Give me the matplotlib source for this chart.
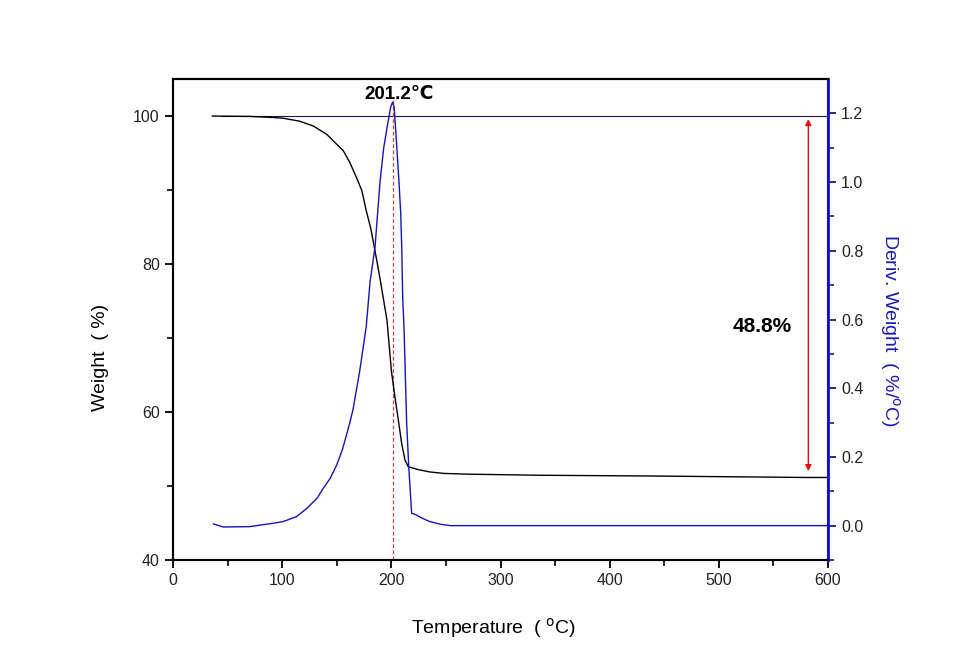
import numpy as np
import matplotlib
matplotlib.use("Agg")
import matplotlib.pyplot as plt

plt.rcParams['font.family'] = ['Liberation Sans', 'DejaVu Sans']

# TGA weight curve
temp_w = [36, 45, 70, 92, 101, 116, 128.5, 141, 148.4, 156, 162, 168, 173, 177, 181, 185,
          190, 196, 200, 203, 206.4, 209.5, 212.5, 215.5, 225, 235, 248, 269, 336, 437,
          580, 600]
weight = [100.0, 99.98, 99.95, 99.8, 99.7, 99.3, 98.65, 97.5, 96.4, 95.3, 93.7, 91.7,
          89.9, 87.2, 84.9, 81.8, 77.7, 72.4, 65.6, 62.3, 58.9, 55.7, 53.5, 52.6, 52.2,
          51.9, 51.7, 51.6, 51.45, 51.35, 51.15, 51.15]

# DTG derivative curve
temp_d = [37, 46, 70, 92, 101, 113, 122.5, 132, 137.7, 144, 150, 155, 159, 162, 165, 171,
          177, 180.5, 185, 189.6, 193, 197.2, 199.5, 201, 202.5, 203.4, 207, 208.6, 209.5,
          210.4, 211.6, 214, 216, 218.6, 221.7, 228, 235, 245, 254, 600]
deriv = [0.005, -0.004, -0.003, 0.007, 0.012, 0.026, 0.05, 0.08, 0.109, 0.138, 0.177,
         0.22, 0.265, 0.30, 0.34, 0.45, 0.58, 0.71, 0.81, 1.00, 1.10, 1.18, 1.22, 1.232,
         1.22, 1.18, 1.00, 0.907, 0.81, 0.663, 0.576, 0.30, 0.167, 0.036, 0.033, 0.022,
         0.012, 0.004, 0.0, 0.0]

peak_T = 201.2
loss_top = 99.6
loss_bottom = 52.0
loss_T = 582
loss_text = "48.8%"

fig = plt.figure(figsize=(9.63, 6.72), dpi=100)
ax = fig.add_axes([0.1797, 0.1667, 0.6801, 0.7157])
ax2 = ax.twinx()

ax.plot(temp_w, weight, color='black', lw=1.0, zorder=3)
ax.plot([45, 600], [100, 100], color='#1a1a5e', lw=0.8)
ax.plot([peak_T, peak_T], [40, 102.3], color='#d04040', lw=0.9, ls=(0, (3, 2)))
ax.annotate('', xy=(loss_T, loss_bottom), xytext=(loss_T, loss_top),
            arrowprops=dict(arrowstyle='<|-|>', color='#e01010', lw=1.0,
                            mutation_scale=9, shrinkA=0, shrinkB=0))
ax.text(540, 71.5, loss_text, fontsize=15, fontweight='bold', ha='center', va='center')
ax.text(207, 102.9, "201.2\u2103", fontsize=13.5, fontweight='bold', ha='center', va='center')

ax2.plot(temp_d, deriv, color='#1515b0', lw=1.0)

ax.set_xlim(0, 600)
ax.set_ylim(40, 105)
ax2.set_ylim(-0.1, 1.3)

ax.set_xticks(np.arange(0, 601, 100))
ax.set_xticks(np.arange(50, 600, 100), minor=True)
ax.set_yticks([40, 60, 80, 100])
ax.set_yticks([50, 70, 90], minor=True)
ax2.set_yticks([0.0, 0.2, 0.4, 0.6, 0.8, 1.0, 1.2])
ax2.set_yticks(np.arange(-0.1, 1.25, 0.2), minor=True)
ax2.yaxis.set_major_formatter(matplotlib.ticker.FormatStrFormatter('%.1f'))

for a in (ax, ax2):
    a.tick_params(which='major', direction='out', length=6, width=1.3, labelsize=11.5,
                  labelcolor='#222222')
    a.tick_params(which='minor', direction='out', length=4, width=1.2)
    for s in a.spines.values():
        s.set_linewidth(1.5)
ax.tick_params(top=False, right=False, which='both')
ax2.tick_params(axis='y', which='both', colors='#1a1a6e', labelcolor='#222222')
ax2.spines['right'].set_color('#1010e0')
ax2.spines['right'].set_linewidth(2)

ax.set_xlabel("Temperature  ( $^{\\mathrm{o}}$C)", fontsize=14, va='center')
ax.set_ylabel("Weight  ( %)", fontsize=14, va='center')
ax2.set_ylabel("Deriv. Weight  ( %/$^{\\mathrm{o}}$C)", fontsize=14, color='#1a1ab0',
               rotation=270, va='center')
ax.xaxis.set_label_coords(0.489, -0.141)
ax.yaxis.set_label_coords(-0.111, 0.422)
ax2.yaxis.set_label_coords(1.095, 0.478)

fig.savefig("out.png", dpi=100)
